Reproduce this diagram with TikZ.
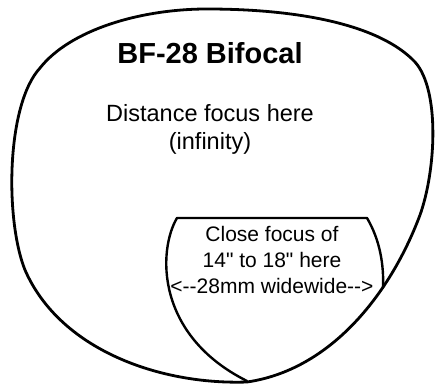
\documentclass[tikz,border=0pt]{standalone}
\usepackage{fontspec}
\newfontfamily\lensfont{Liberation Sans}
\usetikzlibrary{positioning}
\tikzset{
  lensline/.style={line width=2.8pt, line join=round, line cap=round},
  segline/.style={line width=2.4pt, line join=round, line cap=round},
  notetext/.style={inner sep=0pt, align=center, font=\lensfont\fontsize{23.5}{28}\selectfont},
  nearnote/.style={inner sep=0pt, align=center, font=\lensfont\fontsize{21}{26}\selectfont}
}

\begin{document}
\begin{tikzpicture}[x=1pt, y=-1pt]
  \useasboundingbox (0,0) rectangle (438,387);
  % lens outline
  \draw[lensline] (207,9) .. controls (300,9) and (380,25) .. (415,62)
    .. controls (440,90) and (436,170) .. (420,215)
    .. controls (390,295) and (330,370) .. (247,382)
    .. controls (160,385) and (60,350) .. (25,270)
    .. controls (5,220) and (6,105) .. (40,68)
    .. controls (70,30) and (140,9) .. (207,9) -- cycle;
  % reading segment
  \draw[segline] (383,288) .. controls (384,265) and (380,240) .. (367,218)
    -- (177,218)
    .. controls (158,250) and (155,335) .. (247,381);
  \node[inner sep=0pt, font=\lensfont\bfseries\fontsize{29}{34}\selectfont] (title) at (210,53) {BF-28 Bifocal};
  \node[notetext, below=40pt of title] (farnote) {Distance focus here\\(infinity)};
  \node[nearnote] (nearnote) at (272,260) {Close focus of\\14" to 18" here\\\mbox{<-{}-28mm widewide-{}->}};
\end{tikzpicture}
\end{document}
